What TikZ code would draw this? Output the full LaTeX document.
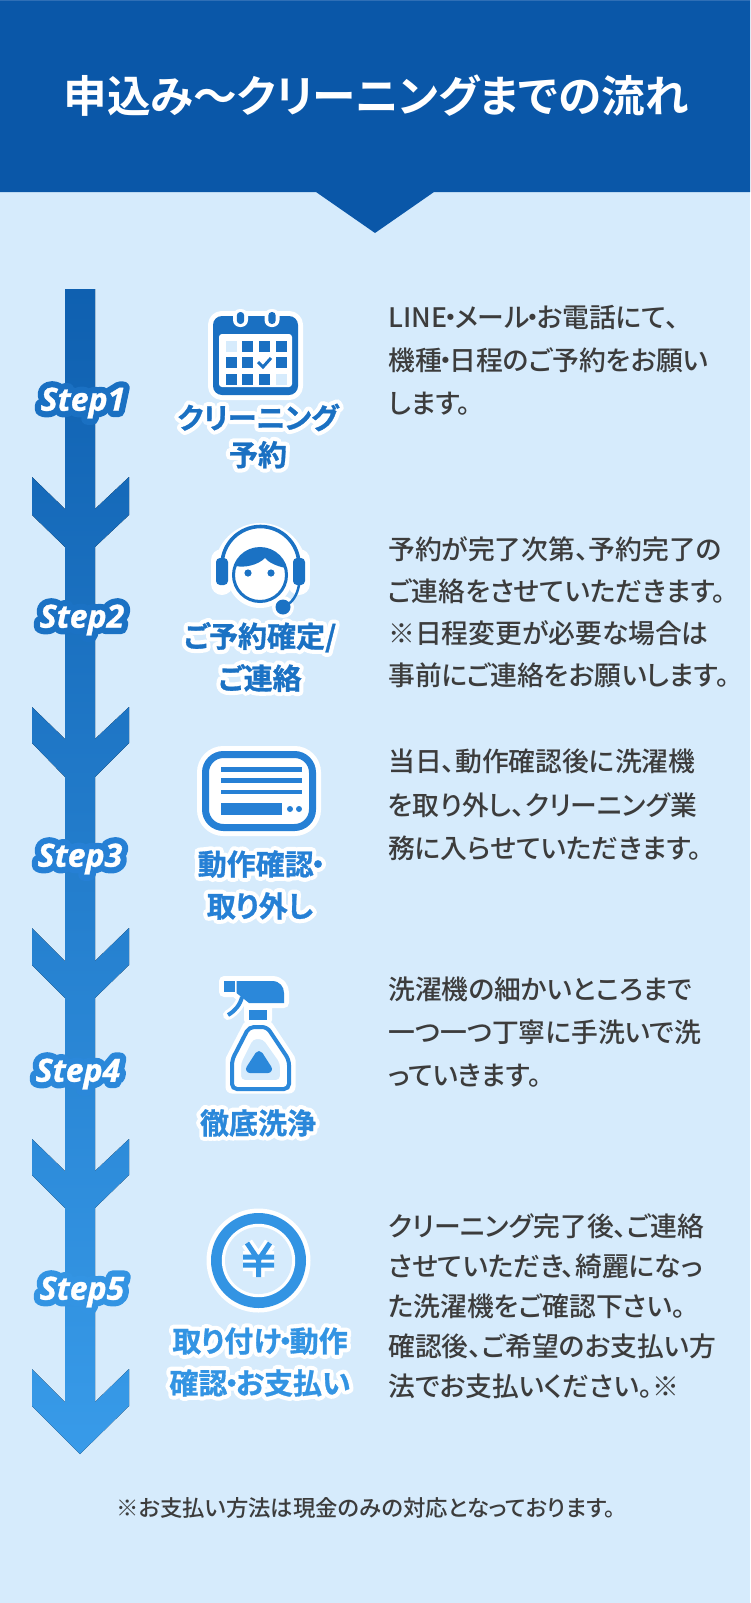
\documentclass[tikz,border=0pt]{standalone}
\usepackage{fontspec}
\setmainfont{Noto Sans CJK JP Medium}[BoldFont={Noto Sans CJK JP Bold},RawFeature=+palt]
\newfontfamily\labfont{Noto Sans CJK JP Bold}[FakeBold=1,RawFeature=+palt]
\newfontfamily\halofont{Noto Sans CJK JP Bold}[FakeBold=30,RawFeature=+palt]
\newfontfamily\stepfont{Open Sans Bold Italic}[FakeBold=1]
\newfontfamily\stephalo{Open Sans Bold Italic}[FakeBold=40]
\usetikzlibrary{positioning}
\definecolor{pagebg}{HTML}{D6EBFC}
\definecolor{headbg}{HTML}{0A57A8}
\definecolor{headline}{HTML}{2F6FB6}
\definecolor{bodytext}{HTML}{3C3C3C}
\definecolor{flowtop}{HTML}{0F60B0}
\definecolor{flowend}{HTML}{389BE9}
\definecolor{iconA}{HTML}{1A70C2}
\definecolor{iconB}{HTML}{1B72C4}
\definecolor{iconC}{HTML}{2680D5}
\definecolor{iconD}{HTML}{2B88DA}
\definecolor{iconE}{HTML}{3394E3}
\newcommand{\roundjoin}{\special{pdf:code 1 j 1 J}}
\newcommand{\dotsep}{\kern-3pt・\kern-3pt}
\tikzset{
  bodynote/.style={anchor=north west, inner sep=0pt, align=left, text=bodytext, text width=355pt},
  steptag/.style={inner sep=0pt, text=white, font=\stepfont\fontsize{32}{32}\selectfont},
  stephaze/.style={inner sep=0pt, font=\stephalo\fontsize{32}{32}\selectfont},
  iconlab/.style={inner sep=0pt, align=center, font=\labfont\fontsize{29}{\sk}\selectfont},
  iconhaze/.style={inner sep=0pt, align=center, text=white, font=\halofont\fontsize{29}{\sk}\selectfont},
  halo/.style={draw=white, line join=round, line cap=round},
}
\begin{document}
\begin{tikzpicture}[x=1pt, y=-1pt]
  \useasboundingbox (0,0) rectangle (750,1603);
  \fill[pagebg] (0,0) rectangle (750,1603);

  % header
  \fill[headbg] (0,0) -- (750,0) -- (750,192) -- (434,192) -- (375,233) -- (316,192) -- (0,192) -- cycle;
  \fill[headline] (0,0) rectangle (750,1);
  \node[text=white, inner sep=0pt, font=\bfseries\fontsize{43.6}{44}\selectfont] (title) at (376,96) {申込み〜クリーニングまでの流れ};

  % flow arrow
  \fill[top color=flowtop, bottom color=flowend, shading angle=0]
    (65,289) -- (95,289) -- (95,509) -- (129,477) -- (129,515) -- (95,547)
    -- (95,739) -- (129,707) -- (129,743) -- (95,777)
    -- (95,961) -- (129,928) -- (129,965) -- (95,998)
    -- (95,1171) -- (129,1139) -- (129,1175) -- (95,1208)
    -- (95,1402) -- (129,1369) -- (129,1406) -- (80,1454) -- (32,1406) -- (32,1369) -- (65,1402)
    -- (65,1208) -- (32,1175) -- (32,1139) -- (65,1171)
    -- (65,998) -- (32,965) -- (32,928) -- (65,961)
    -- (65,777) -- (32,743) -- (32,707) -- (65,739)
    -- (65,547) -- (32,515) -- (32,477) -- (65,509) -- cycle;

  % step tags
  \foreach \n/\xx/\yy/\col in {1/83/403/iconA, 2/82/620/iconB, 3/80/859/iconC, 4/78/1074/iconD, 5/82/1292/iconE} {
    \node[stephaze, text=\col] (haze\n) at (\xx,\yy) {\roundjoin Step\n};
    \node[steptag] (step\n) at (\xx,\yy) {Step\n};
  }

  % icon labels
  \foreach \n/\xx/\yy/\sk/\col/\lab in {
    1/258/436/37/iconA/{クリーニング\\予約},
    2/260/657/42/iconB/{ご予約確定/\\ご連絡},
    3/260/885/42/iconC/{動作確認\dotsep\\取り外し},
    4/258/1123/42/iconD/{徹底洗浄},
    5/260/1362/42/iconE/{取り付け\dotsep 動作\\確認\dotsep お支払い}} {
    \node[iconhaze] (labhaze\n) at (\xx,\yy) {\roundjoin\lab};
    \node[iconlab, text=\col] (lab\n) at (\xx,\yy) {\lab};
  }

  % calendar
  \fill[iconA, halo, line width=10pt] (213,316) [rounded corners=9pt] -- (298,316) -- (298,395) -- (213,395) -- cycle;
  \fill[iconA, rounded corners=9pt] (213,316) -- (298,316) -- (298,395) -- (213,395) -- cycle;
  \fill[white, rounded corners=3pt] (219,334) -- (292,334) -- (292,387) -- (219,387) -- cycle;
  \foreach \xx in {240.5,272} {
    \fill[white, rounded corners=7pt] (\xx-7.5,309) rectangle (\xx+7.5,327);
    \fill[iconA, rounded corners=3.5pt] (\xx-3.7,312) rectangle (\xx+3.7,324);
  }
  \foreach \cx/\cy in {242/341,259/341,276/341,226/357,242/357,276/357,226/374,242/374,259/374} {
    \fill[iconA] (\cx,\cy) rectangle ++(11,11);
  }
  \foreach \cx/\cy in {226/341,276/374} {
    \fill[pagebg] (\cx,\cy) rectangle ++(11,11);
  }
  \draw[iconA, line width=3pt] (258,362) -- (263,367) -- (271,358);

  % headset
  \fill[white] (214.5,569) arc[start angle=180, end angle=360, radius=46] -- cycle;
  \fill[white] (260,575) circle (33);
  \draw[halo, line width=22pt] (222,560) -- (222,584) (299,560) -- (299,584);
  \fill[white] (283,607) circle (11);
  \draw[iconB, line width=3.6pt] (222,565) arc[start angle=180, end angle=360, radius=38.5];
  \fill[iconB, rounded corners=4pt] (216,558) rectangle (228,585);
  \fill[iconB, rounded corners=4pt] (293,558) rectangle (305,585);
  \draw[iconB, line width=3pt] (260,575) circle (26.5);
  \fill[iconB] (236,566) arc[start angle=200, end angle=344, radius=25.5] .. controls (276,566) and (268,562) .. (265,558) .. controls (258,565) and (245,568) .. (236,566) -- cycle;
  \fill[iconB] (248,573) circle (3.6) (271,573) circle (3.6);
  \draw[iconB, line width=2.5pt] (299,585) .. controls (297,596) and (292,602) .. (287,605);
  \fill[iconB] (283,607) circle (7.5);

  % aircon unit
  \draw[white, line width=17pt, rounded corners=18pt] (205.5,754.5) rectangle (312.5,827.5);
  \fill[white, rounded corners=16pt] (205.5,754.5) rectangle (312.5,827.5);
  \draw[iconC, line width=7pt, rounded corners=18pt] (205.5,754.5) rectangle (312.5,827.5);
  \foreach \yy in {769.5,780.5,792} {\fill[iconC] (221,\yy-2.3) rectangle (302,\yy+2.3);}
  \fill[iconC] (221,803) rectangle (282,815);
  \fill[iconC] (290,809) circle (3) (299,809) circle (3);

  % spray bottle
  \draw[halo, line width=10pt, fill=white] (224,981) -- (272,981) .. controls (280,981) and (284,987) .. (284,993) -- (284,1003) -- (267,1003) -- (267,1020) -- (249,1020) -- (249,1003) -- (235,992) -- (224,992) -- cycle;
  \draw[halo, line width=10pt] (242,997) .. controls (240,1005) and (235,1011) .. (228,1015);
  \fill[iconD] (236.5,981) -- (272,981) .. controls (280,981) and (284,987) .. (284,993) -- (284,1003) -- (249,1003) -- (236.5,993) -- cycle;
  \fill[iconD] (224,981) rectangle (234.5,992);
  \draw[iconD, line width=4pt] (242,997) .. controls (240,1005) and (235,1011) .. (228,1015);
  \fill[iconD] (249,1010) rectangle (267,1020);
  \draw[white, line width=13pt, line join=round, fill=white] (249,1027) -- (232,1060) -- (232,1087) -- (289,1087) -- (289,1060) -- (267,1027) -- cycle;
  \draw[iconD, line width=4pt, rounded corners=5pt] (249,1027) -- (232,1060) -- (232,1089) -- (289,1089) -- (289,1060) -- (267,1027) -- cycle;
  \fill[pagebg, rounded corners=2pt] (252,1037) -- (239,1062) -- (239,1082) -- (282,1082) -- (282,1062) -- (264,1037) -- cycle;
  \fill[white, rounded corners=4pt, even odd rule] (252,1034) -- (237,1062) -- (237,1084) -- (284,1084) -- (284,1062) -- (265,1034) -- cycle (253,1039) -- (241,1063) -- (241,1080) -- (280,1080) -- (280,1063) -- (263,1039) -- cycle;
  \fill[iconD, draw=iconD, line width=8pt, line join=round] (259,1055) -- (250,1069) -- (268,1069) -- cycle;

  % coin
  \fill[white] (258.5,1260.5) circle (52);
  \fill[iconE] (258.5,1260.5) circle (47.5);
  \fill[white] (258.5,1260.5) circle (36.7);
  \fill[pagebg] (258.5,1260.5) circle (33.5);
  \draw[white, line width=12pt, line join=round] (247,1243) -- (258.5,1260) -- (270,1243) (258.5,1260) -- (258.5,1277) (243,1257) -- (274,1257) (243,1265) -- (274,1265);
  \draw[iconE, line width=5pt] (247,1243) -- (258.5,1260) -- (270,1243) (258.5,1260) -- (258.5,1277) (243,1257) -- (274,1257) (243,1265) -- (274,1265);

  % right column
  \foreach \n/\yy/\sk/\txt in {
    1/305/43/{LINE\dotsep メール\dotsep お電話にて、\\機種\dotsep 日程のご予約をお願い\\します。},
    2/536/42/{予約が完了次第、予約完了の\\ご連絡をさせていただきます。\\※日程変更が必要な場合は\\事前にご連絡をお願いします。},
    3/749/43.5/{当日、動作確認後に洗濯機\\を取り外し、クリーニング業\\務に入らせていただきます。},
    4/977/43/{洗濯機の細かいところまで\\一つ一つ丁寧に手洗いで洗\\っていきます。},
    5/1213/40/{クリーニング完了後、ご連絡\\させていただき、綺麗になっ\\た洗濯機をご確認下さい。\\確認後、ご希望のお支払い方\\法でお支払いください。※}} {
    \node[bodynote, font=\fontsize{26.8}{\sk}\selectfont] (note\n) at (388,\yy) {\txt};
  }

  % footnote
  \node[inner sep=0pt, text=bodytext, font=\fontsize{22.4}{22.4}\selectfont] (foot) at (366,1508) {※お支払い方法は現金のみの対応となっております。};
\end{tikzpicture}
\end{document}
